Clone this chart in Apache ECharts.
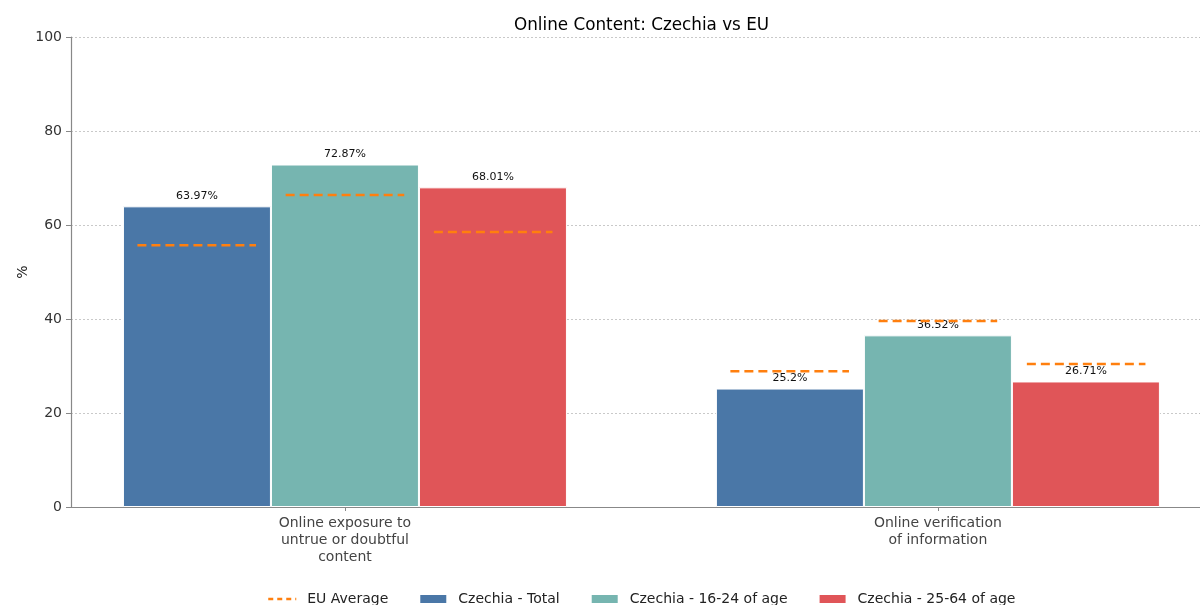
<!DOCTYPE html>
<html>
<head>
<meta charset="utf-8">
<script src="https://cdn.jsdelivr.net/npm/echarts@6/dist/echarts.min.js"></script>
<style>
  html, body { margin: 0; padding: 0; background: #fff; }
  #chart { width: 1200px; height: 605px; }
</style>
</head>
<body>
<div id="chart"></div>
<script>
// data
var categories = ['Online exposure to\nuntrue or doubtful\ncontent', 'Online verification\nof information'];
var groupNames = ['Czechia - Total', 'Czechia - 16-24 of age', 'Czechia - 25-64 of age'];
var czTotal = [63.97, 25.2];
var cz1624 = [72.87, 36.52];
var cz2564 = [68.01, 26.71];
var euTotal = [55.7, 28.9];
var eu1624 = [66.4, 39.6];
var eu2564 = [58.5, 30.4];
var yTicks = [0, 20, 40, 60, 80, 100];

var colors = ['#4a77a7', '#76b5b0', '#e05558'];
var font = 'DejaVu Sans';

// bar offsets in axis units (bar width 0.25), EU dash half width
var offsets = [-0.25, 0, 0.25];
var half = 0.1;
var euSets = [euTotal, eu1624, eu2564];
var euData = [];
for (var c = 0; c < categories.length; c++) {
  for (var s = 0; s < 3; s++) {
    var x = c + offsets[s];
    euData.push([x - half, euSets[s][c]]);
    euData.push([x + half, euSets[s][c]]);
    euData.push([x + half + 0.01, '-']);
  }
}

function barSeries(name, values, color) {
  return {
    name: name,
    type: 'bar',
    barWidth: 148,
    barGap: '0%',
    data: values.map(function (v, i) { return [i, v]; }),
    itemStyle: { color: color, borderColor: '#fff', borderWidth: 1 },
    label: {
      show: true, position: 'top', distance: 5,
      fontFamily: font, fontSize: 11, color: '#111',
      formatter: function (p) { return p.value[1] + '%'; }
    },
    z: 2
  };
}

var chart = echarts.init(document.getElementById('chart'));
chart.setOption({
  animation: false,
  title: {
    text: 'Online Content: Czechia vs EU',
    left: 509, top: 12,
    textStyle: { fontFamily: font, fontSize: 16.8, fontWeight: 'normal', color: '#000' }
  },
  legend: {
    top: 587,
    left: 262,
    itemWidth: 28,
    itemHeight: 10,
    itemGap: 30,
    textStyle: { fontFamily: font, fontSize: 14, color: '#222', padding: [0, 0, 0, 6] },
    data: [
      { name: 'EU Average', itemStyle: { opacity: 0 }, lineStyle: { type: [5, 4], width: 2.5 } },
      { name: groupNames[0], icon: 'rect' },
      { name: groupNames[1], icon: 'rect' },
      { name: groupNames[2], icon: 'rect' }
    ]
  },
  grid: { left: 71, right: 0, top: 37, bottom: 98 },
  xAxis: {
    type: 'value',
    min: -0.462,
    max: 1.442,
    splitLine: { show: false },
    axisLine: { show: true, onZero: false, lineStyle: { color: '#888', width: 1.2 } },
    axisTick: { show: true, customValues: [0, 1], length: 4, lineStyle: { color: '#888' } },
    axisLabel: {
      customValues: [0, 1],
      margin: 8,
      fontFamily: font, fontSize: 14, color: '#444', lineHeight: 17,
      formatter: function (v) { return categories[Math.round(v)]; }
    }
  },
  yAxis: {
    type: 'value',
    min: 0, max: 100, interval: 20,
    name: '%',
    nameLocation: 'middle',
    nameGap: 41,
    nameRotate: 90,
    nameMoveOverlap: false,
    nameTextStyle: { fontFamily: font, fontSize: 14, color: '#222' },
    axisLine: { show: true, onZero: false, lineStyle: { color: '#888', width: 1.2 } },
    axisTick: { show: true, length: 5, lineStyle: { color: '#888' } },
    axisLabel: {
      margin: 9, fontFamily: font, fontSize: 14, color: '#333',
      formatter: function (v) { return yTicks.indexOf(v) >= 0 ? String(v) : ''; }
    },
    splitLine: { show: true, lineStyle: { color: '#bbb', type: [2, 2], width: 0.8 } }
  },
  series: [
    barSeries(groupNames[0], czTotal, colors[0]),
    barSeries(groupNames[1], cz1624, colors[1]),
    barSeries(groupNames[2], cz2564, colors[2]),
    {
      name: 'EU Average',
      type: 'line',
      data: euData,
      symbol: 'none',
      connectNulls: false,
      color: '#ff7f0e',
      lineStyle: { color: '#ff7f0e', width: 2.5, type: [9, 5] },
      z: 5
    }
  ]
});
</script>
</body>
</html>
